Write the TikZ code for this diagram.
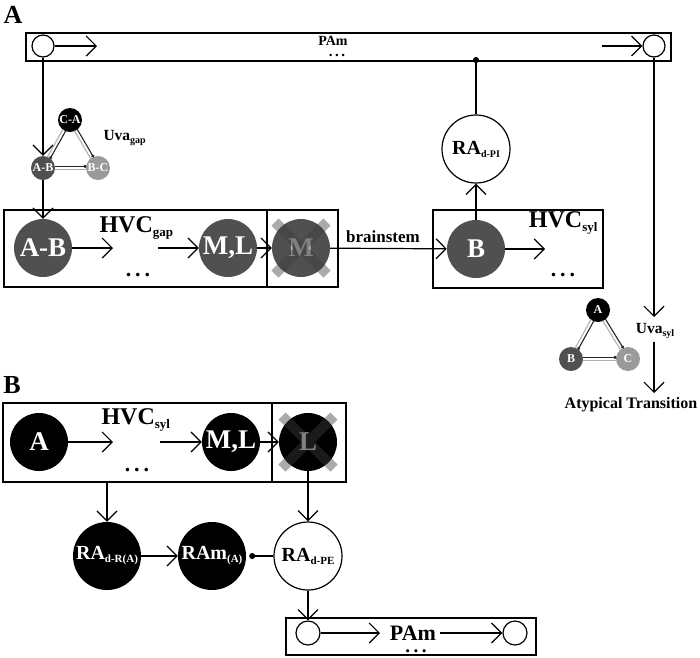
\documentclass[tikz,border=0pt]{standalone}
\usepackage{fontspec}
\setmainfont{Liberation Serif}
\usetikzlibrary{arrows.meta,calc}
\definecolor{dg}{HTML}{505050}
\definecolor{lg}{HTML}{9A9A9A}
\definecolor{xc}{HTML}{3D3D3D}
\definecolor{ed}{HTML}{262626}
\definecolor{el}{HTML}{B0B0B0}
\newcommand{\myfs}[1]{\fontsize{#1}{#1}\selectfont\bfseries}
\newcommand{\mysub}[3]{\raisebox{-#2pt}{\myfs{#1}#3}}
\newcommand{\mydots}[2]{{\myfs{#1}.\hspace{#2}.\hspace{#2}.}}
\newcommand{\uvaedge}[2]{%
  \draw[line width=1.1pt,draw=ed,shorten <=11.5pt,shorten >=11.5pt,-{Circle[length=3pt]}]
    ($(#1)!1.6pt!90:(#2)$) -- ($(#2)!1.6pt!-90:(#1)$);
  \draw[line width=1.1pt,draw=el,shorten <=11.5pt,shorten >=11.5pt]
    ($(#1)!1.6pt!-90:(#2)$) -- ($(#2)!1.6pt!90:(#1)$);}
\tikzset{
  conn/.style={line width=1.2pt},
  arr/.style={conn,-{Straight Barb[length=10pt,width=20pt]}},
  boxn/.style={draw,line width=2pt,inner sep=0pt,anchor=north west},
  big/.style={circle,inner sep=0pt,minimum size=58pt,text=white,font=\myfs{27}},
  small/.style={circle,inner sep=0pt,minimum size=24pt,text=white,font=\myfs{12}},
  ranode/.style={circle,inner sep=0pt,minimum size=68pt,font=\myfs{20}},
  pc/.style={circle,draw,line width=1.2pt,inner sep=0pt,minimum size=22pt,fill=white},
  xmark/.style={draw=xc,line width=10pt,draw opacity=0.44},
  lbl/.style={inner sep=0pt,anchor=base},
}
\begin{document}
\begin{tikzpicture}[x=1pt,y=-1pt]
\useasboundingbox (0,0) rectangle (700,657);

% ---------------- Panel A ----------------
\node[font=\myfs{26}] (labA) at (13,15) {A};

\node[boxn,minimum width=645pt,minimum height=28pt] (pamA) at (25,32) {};
\node[pc] (pl) at (43,46) {};
\node[pc] (pr) at (654,46) {};
\coordinate (pla) at (97,46);
\coordinate (pra) at (602,46);
\draw[arr] (pl) -- (pla);
\draw[arr] (pra) -- (pr);
\node[lbl,font=\myfs{14}] (pamAt) at (333,45) {PAm};
\node[lbl] (pamAd) at (337,56) {\mydots{15}{2.5pt}};

% Uva gap triangle
\node[small,fill=black] (CA) at (70,120) {C-A};
\node[small,fill=dg] (AB) at (43,168) {A-B};
\node[small,fill=lg] (BC) at (98,168) {B-C};
\uvaedge{CA}{AB}
\uvaedge{CA}{BC}
\uvaedge{AB}{BC}
\node[anchor=west] (uvagap) at (100,138) {\myfs{15.5}Uva\mysub{10}{3}{gap}};

% HVC gap
\node[boxn,minimum width=334pt,minimum height=77pt] (hvcgap) at (3,209) {};
\coordinate (divA) at (267,0);
\draw[line width=1.5pt] (hvcgap.north west -| divA) -- (hvcgap.south west -| divA);
\node[big,fill=dg] (ab) at (43,248) {A-B};
\node[big,fill=dg] (ml) at (228,248) {M,L};
\node[big,fill=dg,text=black!28] (mx) at (301,248) {M};
\draw[xmark] ($(mx)+(-26,-26)$) -- ($(mx)+(26,26)$) ($(mx)+(-26,26)$) -- ($(mx)+(26,-26)$);
\node[anchor=west] (hvcgapt) at (96,228) {\myfs{24}HVC\mysub{13}{4}{gap}};
\node[lbl] (hvcgapd) at (138,276) {\mydots{22}{4pt}};
\coordinate (abx) at (113,248);
\coordinate (mlx) at (158,248);
\draw[arr] (ab) -- (abx);
\draw[arr] (mlx) -- (ml);
\draw[arr] (ml) -- (mx);

\draw[arr] (pl) -- (AB);
\draw[arr] (AB) -- (ab);

% HVC syl (A)
\node[boxn,minimum width=170pt,minimum height=78pt] (hvcsyl) at (432,209) {};
\node[big,fill=dg] (bs) at (476,249) {B};
\node[anchor=east] (hvcsylt) at (601,223) {\myfs{24}HVC\mysub{13}{4}{syl}};
\node[lbl] (hvcsyld) at (563,276) {\mydots{22}{4pt}};
\coordinate (bsx) at (545,249);
\draw[arr] (bs) -- (bsx);
\draw[arr] (mx) -- (bs);
\node[font=\myfs{17}] (brs) at (383,237) {brainstem};

% RA d-PI
\node[ranode,draw,line width=1.2pt,fill=white] (rapi) at (476,149) {RA\mysub{10}{3}{d-PI}};
\coordinate (pdot) at (476,57);
\draw[conn,-{Circle[length=6pt]}] (rapi) -- (pdot);
\draw[arr] (bs) -- (rapi);

% right descending line
\coordinate (uvt) at (654,317);
\coordinate (uvs) at (654,342);
\coordinate (att) at (654,393);
\draw[arr] (pr) -- (uvt);
\node (uvasyl) at (655,331) {\myfs{15.5}Uva\mysub{10}{3}{syl}};
\draw[arr] (uvs) -- (att);
\node[font=\myfs{16}] (atyp) at (631,405) {Atypical Transition};

% Uva syl triangle
\node[small,fill=black] (tA) at (598,310) {A};
\node[small,fill=dg] (tB) at (571,359) {B};
\node[small,fill=lg] (tC) at (628,359) {C};
\uvaedge{tA}{tB}
\uvaedge{tA}{tC}
\uvaedge{tB}{tC}

% ---------------- Panel B ----------------
\node[font=\myfs{26}] (labB) at (12,385) {B};
\node[boxn,minimum width=343pt,minimum height=79pt] (hvcB) at (2,402) {};
\coordinate (divB) at (272,0);
\draw[line width=1.5pt] (hvcB.north west -| divB) -- (hvcB.south west -| divB);
\node[big,fill=black] (bA) at (39,442) {A};
\node[big,fill=black] (bML) at (231,442) {M,L};
\node[big,fill=black,text=black!28] (bL) at (308,442) {L};
\draw[xmark] ($(bL)+(-26,-26)$) -- ($(bL)+(26,26)$) ($(bL)+(-26,26)$) -- ($(bL)+(26,-26)$);
\node[anchor=west] (hvcBt) at (98,420) {\myfs{24}HVC\mysub{13}{4}{syl}};
\node[lbl] (hvcBd) at (137,471) {\mydots{22}{4pt}};
\coordinate (bAx) at (113,442);
\coordinate (bMLx) at (160,442);
\draw[arr] (bA) -- (bAx);
\draw[arr] (bMLx) -- (bML);
\draw[arr] (bML) -- (bL);

\node[ranode,fill=black,text=white] (radr) at (107,556) {RA\mysub{11}{3}{d-R(A)}};
\node[ranode,fill=black,text=white] (ram) at (212,556) {RAm\mysub{11}{3}{(A)}};
\node[ranode,draw,line width=1.2pt,fill=white] (rape) at (308,556) {RA\mysub{11}{3}{d-PE}};
\coordinate (hvcBo) at (107,481);
\draw[arr] (hvcBo) -- (radr);
\draw[arr] (bL) -- (rape);
\draw[arr] (radr) -- (ram);
\draw[conn,-{Circle[length=6pt]}] (rape) -- ($(ram.east)+(3,0)$);

% bottom PAm
\node[boxn,minimum width=250pt,minimum height=37pt] (pamB) at (285,617) {};
\node[pc,minimum size=24pt] (bpl) at (308,633) {};
\node[pc,minimum size=24pt] (bpr) at (515,633) {};
\coordinate (bplx) at (380,633);
\coordinate (bprx) at (440,633);
\draw[arr] (bpl) -- (bplx);
\draw[arr] (bprx) -- (bpr);
\node[lbl,font=\myfs{22}] (pamBt) at (413,640.5) {PAm};
\node[lbl] (pamBd) at (416,652) {\mydots{19}{3.5pt}};
\draw[arr] (rape) -- (bpl);
\end{tikzpicture}
\end{document}
